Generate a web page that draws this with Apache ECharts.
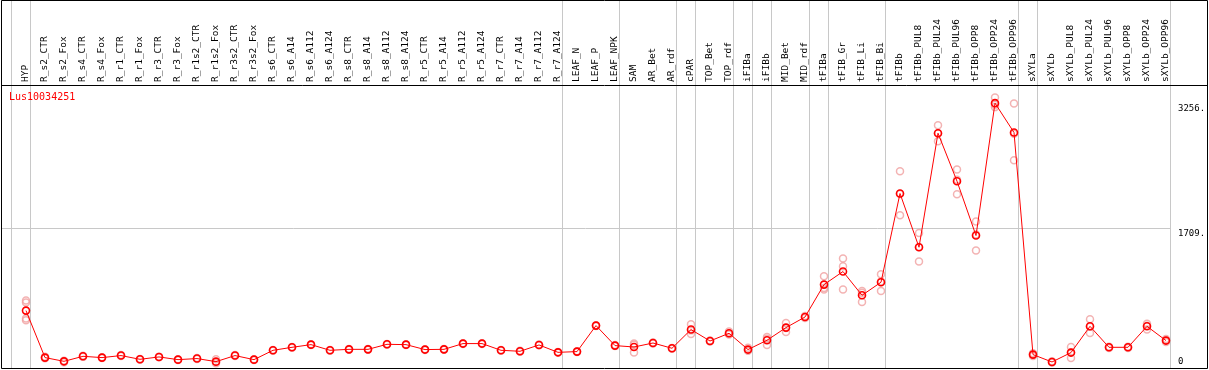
<!DOCTYPE html>
<html>
<head>
<meta charset="utf-8">
<script src="https://cdn.jsdelivr.net/npm/echarts@6/dist/echarts.min.js"></script>
<style>
  html, body { margin: 0; padding: 0; background: #fff; }
  #chart { width: 1209px; height: 370px; }
</style>
</head>
<body>
<div id="chart"></div>
<script>
// gene expression profile, one column per sample
var geneName = 'Lus10034251';

var samples = ['HYP', 'R_s2_CTR', 'R_s2_Fox', 'R_s4_CTR', 'R_s4_Fox', 'R_r1_CTR', 'R_r1_Fox',
  'R_r3_CTR', 'R_r3_Fox', 'R_r1s2_CTR', 'R_r1s2_Fox', 'R_r3s2_CTR', 'R_r3s2_Fox',
  'R_s6_CTR', 'R_s6_A14', 'R_s6_A112', 'R_s6_A124', 'R_s8_CTR', 'R_s8_A14', 'R_s8_A112', 'R_s8_A124',
  'R_r5_CTR', 'R_r5_A14', 'R_r5_A112', 'R_r5_A124', 'R_r7_CTR', 'R_r7_A14', 'R_r7_A112', 'R_r7_A124',
  'LEAF_N', 'LEAF_P', 'LEAF_NPK', 'SAM', 'AR_Bet', 'AR_rdf', 'cPAR', 'TOP_Bet', 'TOP_rdf',
  'iFIBa', 'iFIBb', 'MID_Bet', 'MID_rdf', 'tFIBa', 'tFIB_Gr', 'tFIB_Li', 'tFIB_Bi',
  'tFIBb', 'tFIBb_PUL8', 'tFIBb_PUL24', 'tFIBb_PUL96', 'tFIBb_OPP8', 'tFIBb_OPP24', 'tFIBb_OPP96',
  'sXYLa', 'sXYLb', 'sXYLb_PUL8', 'sXYLb_PUL24', 'sXYLb_PUL96', 'sXYLb_OPP8', 'sXYLb_OPP24', 'sXYLb_OPP96'];

// mean expression
var means = [696, 116, 70, 132, 116, 141, 95, 124, 91, 104, 66, 141, 91,
  206, 243, 276, 206, 218, 218, 280, 276,
  215, 218, 289, 289, 206, 194, 272, 181,
  190, 511, 264, 247, 296, 231, 462, 321, 416,
  215, 330, 486, 617, 1017, 1178, 885, 1046,
  2141, 1478, 2885, 2293, 1622, 3256, 2894,
  153, 62, 178, 502, 243, 243, 502, 326];

// replicate values
var replicates = [[820, 795, 598, 577], [125, 108], [78, 60], [140, 125], [120, 112], [148, 135], [100, 90],
  [128, 120], [95, 86], [110, 98], [95, 45], [148, 135], [96, 86],
  [211, 201], [248, 238], [281, 271], [211, 201], [223, 213], [223, 213], [285, 275], [281, 271],
  [220, 210], [223, 213], [294, 284], [294, 284], [211, 201], [199, 189], [277, 267], [186, 176],
  [195, 185], [515, 507], [270, 258], [289, 275, 178], [302, 290], [236, 226], [527, 452, 407], [328, 315], [438, 410, 400],
  [238, 207, 200], [370, 348, 272], [543, 482, 432], [630, 605], [1120, 976, 955], [1338, 1243, 956], [938, 915, 802], [1144, 1056, 938],
  [2416, 2134, 1873], [1654, 1480, 1301], [2984, 2885, 2786], [2437, 2310, 2132], [1795, 1635, 1437], [3326, 3235, 3207], [3252, 2878, 2552],
  [170, 153, 136], [70, 55], [247, 178, 111], [589, 497, 420], [250, 236], [250, 236], [535, 510, 462], [345, 326, 308]];

// grey separators drawn after these sample indices (-1 = before the first)
var groupEnds = [-1, 0, 28, 31, 34, 35, 37, 38, 39, 41, 42, 45, 52, 53, 60];

var yTickValues = [0, 1709, 3256];
var yGridValues = [1709];
var yMax = 3480;

var repPoints = [];
replicates.forEach(function (arr, i) {
  arr.forEach(function (v) { repPoints.push([i, v]); });
});

// one slot per boundary, from before HYP to after the last sample
var boundarySlots = [];
for (var k = -1; k < samples.length; k++) boundarySlots.push(String(k));

var mono = 'DejaVu Sans Mono';

var chart = echarts.init(document.getElementById('chart'));

chart.setOption({
  animation: false,
  title: {
    text: geneName,
    left: 9,
    top: 92,
    padding: 0,
    textStyle: { color: '#ff0000', fontFamily: mono, fontSize: 10, fontWeight: 'normal' }
  },
  grid: [
    { left: 26, right: 43, top: 85, bottom: 3 },
    { left: 11.5, right: 38.5, top: 0, bottom: 2 },
    { left: 1, right: 39, top: 85, bottom: 3 }
  ],
  xAxis: [{
    gridIndex: 0,
    type: 'category',
    data: samples,
    boundaryGap: false,
    position: 'top',
    axisLine: { show: false },
    axisTick: { show: false },
    splitLine: { show: false },
    axisLabel: {
      interval: 0,
      rotate: 90,
      margin: 3,
      fontFamily: mono,
      fontSize: 9.5,
      color: '#000'
    }
  }, {
    gridIndex: 1,
    type: 'category',
    data: boundarySlots,
    boundaryGap: false,
    axisLine: { show: false },
    axisTick: { show: false },
    axisLabel: { show: false },
    splitLine: {
      show: true,
      interval: function (index) { return groupEnds.indexOf(index - 1) >= 0; },
      lineStyle: { color: '#c8c8c8', width: 1 }
    }
  }, {
    gridIndex: 2,
    type: 'value',
    show: false
  }],
  yAxis: [{
    gridIndex: 0,
    type: 'value',
    position: 'right',
    min: 0,
    max: yMax,
    axisLine: { show: false },
    axisTick: { show: false, customValues: yTickValues },
    splitLine: { show: false },
    axisLabel: {
      customValues: yTickValues,
      margin: 12,
      fontFamily: mono,
      fontSize: 9,
      color: '#000',
      formatter: function (v) {
        return v === 0 ? '{b|0}' : '{t|' + v + '.}';
      },
      rich: {
        t: { padding: [11, 0, 0, 0], fontFamily: mono, fontSize: 9, color: '#000' },
        b: { padding: [0, 0, 11, 0], fontFamily: mono, fontSize: 9, color: '#000' }
      }
    }
  }, {
    gridIndex: 1,
    type: 'value',
    show: false
  }, {
    gridIndex: 2,
    type: 'value',
    min: 0,
    max: yMax,
    axisLine: { show: false },
    axisTick: { show: false, customValues: yGridValues },
    axisLabel: { show: false },
    splitLine: { show: true, lineStyle: { color: '#c8c8c8', width: 1 } }
  }],
  graphic: [{
    type: 'rect',
    shape: { x: 1.5, y: 0.5, width: 1206, height: 368 },
    style: { fill: null, stroke: '#000', lineWidth: 1 },
    z: 100
  }, {
    type: 'line',
    shape: { x1: 1, y1: 85.5, x2: 1208, y2: 85.5 },
    style: { stroke: '#000', lineWidth: 1 },
    z: 100
  }],
  series: [{
    name: 'replicates',
    type: 'scatter',
    xAxisIndex: 0,
    yAxisIndex: 0,
    data: repPoints,
    symbol: 'circle',
    symbolSize: 7,
    itemStyle: { color: 'rgba(0,0,0,0)', borderColor: '#f0a0a0', borderWidth: 1.5 },
    z: 2
  }, {
    name: 'mean',
    type: 'line',
    xAxisIndex: 0,
    yAxisIndex: 0,
    data: means,
    symbol: 'circle',
    symbolSize: 7,
    showAllSymbol: true,
    lineStyle: { color: '#ff0000', width: 1 },
    itemStyle: { color: 'rgba(0,0,0,0)', borderColor: '#ff0000', borderWidth: 1.6 },
    z: 3
  }]
});
</script>
</body>
</html>
